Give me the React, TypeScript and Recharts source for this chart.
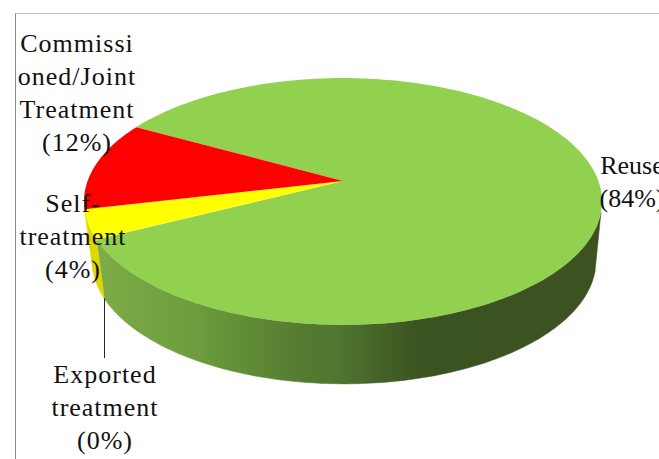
import { Pie, PieChart } from 'recharts'

const WIDTH = 659
const HEIGHT = 459

// slice order runs clockwise from the top-left edge of the red slice
const categories = ['Reuse', 'Exported treatment', 'Self-treatment', 'Commissioned/Joint Treatment']
const values = [84.49, 0.11, 3.7, 11.7]
const topColors = ['#92d050', '#ffff00', '#ffff00', '#ff0000']
const wallColors = ['url(#wallGreen)', '#d8d400', '#dcd800', '#c00000']
const labelLines = [['Reuse'], ['Exported', 'treatment'], ['Self-', 'treatment'], ['Commissi', 'oned/Joint', 'Treatment']]

// where each label block sits: centre x, first baseline
const labelAnchors = [
  [632, 174],
  [105, 383],
  [73, 212],
  [77, 52],
]
const LINE_GAP = 33

const data = categories.map((name, i) => ({
  name,
  value: values[i],
  fill: topColors[i],
  wall: wallColors[i],
}))

// perspective disc: the apex is not the middle of the ellipse
const RX = 255.4
const RY = 120
const TILT = 0.166
const DEPTH = 59
const SHRINK = 0.973
const WALL_LIMIT = -0.24

function rim(cx: number, cy: number, deg: number) {
  const rad = (deg * Math.PI) / 180
  const d = 1 + TILT * Math.sin(rad)
  return [cx + (RX * Math.cos(rad)) / d, cy - (RY * Math.sin(rad)) / d]
}

function lower(cx: number, p: number[]) {
  return [cx + 1 + (p[0] - cx) * SHRINK, p[1] + DEPTH]
}

function toPath(points: number[][]) {
  return 'M' + points.map((p) => p[0].toFixed(1) + ' ' + p[1].toFixed(1)).join('L') + 'Z'
}

function DiscSlice(props: any) {
  const { cx, cy, startAngle, endAngle, fill, wall } = props
  const steps = Math.max(2, Math.ceil(Math.abs(endAngle - startAngle)))
  const angles: number[] = []
  for (let i = 0; i <= steps; i++) angles.push(startAngle + ((endAngle - startAngle) * i) / steps)

  const front = angles.filter((a) => Math.sin((a * Math.PI) / 180) < WALL_LIMIT)
  const top = front.map((a) => rim(cx, cy, a))
  const bottom = top.map((p) => lower(cx, p)).reverse()

  return (
    <g>
      {front.length > 1 && <path d={toPath([...top, ...bottom])} fill={wall} stroke={wall} strokeWidth={0.5} />}
      <path d={toPath([[cx, cy], ...angles.map((a) => rim(cx, cy, a))])} fill={fill} />
    </g>
  )
}

function SliceLabel(props: any) {
  const { index, cx, cy, midAngle } = props
  const [x, y] = labelAnchors[index]
  const lines = [...labelLines[index], '(' + Math.round(values[index]) + '%)']
  const foot = lower(cx, rim(cx, cy, midAngle))
  // snap to the pixel grid so the leader stays crisp
  const footX = Math.floor(foot[0]) + 0.5
  return (
    <g>
      {index === 1 && <line x1={footX} y1={foot[1]} x2={footX} y2={358} stroke="#262626" strokeWidth={1} />}
      <text
        x={x}
        y={y}
        textAnchor="middle"
        fill="#111111"
        fontFamily="'Liberation Serif', serif"
        fontSize={26}
        letterSpacing={index === 0 ? 0 : 1}
      >
        {lines.map((line, i) => (
          <tspan key={line} x={x} y={y + i * LINE_GAP}>
            {line}
          </tspan>
        ))}
      </text>
    </g>
  )
}

export default function App() {
  return (
    <div style={{ position: 'absolute', left: 0, top: 0, width: WIDTH, height: HEIGHT, overflow: 'hidden', background: '#fff' }}>
      <div
        style={{
          position: 'absolute',
          left: 15,
          top: 13,
          width: 800,
          height: 600,
          borderTop: '1px solid #bfbfbf',
          borderLeft: '1px solid #8c8c8c',
        }}
      />
      <div style={{ position: 'absolute', left: 0, top: 0 }}>
        <PieChart width={WIDTH} height={HEIGHT} margin={{ top: 0, right: 0, bottom: 0, left: 0 }}>
          <defs>
            <linearGradient id="wallGreen" gradientUnits="userSpaceOnUse" x1={97} y1={0} x2={600} y2={0}>
              <stop offset="0%" stopColor="#7dac48" />
              <stop offset="20%" stopColor="#6c9c3c" />
              <stop offset="40%" stopColor="#557c31" />
              <stop offset="48%" stopColor="#4f7530" />
              <stop offset="64%" stopColor="#3b5321" />
              <stop offset="100%" stopColor="#3c5221" />
            </linearGradient>
          </defs>
          <Pie
            data={data}
            dataKey="value"
            nameKey="name"
            cx={343}
            cy={181}
            innerRadius={0}
            outerRadius={255}
            startAngle={151}
            endAngle={-209}
            stroke="none"
            shape={DiscSlice}
            label={SliceLabel}
            labelLine={false}
            isAnimationActive={false}
          />
        </PieChart>
      </div>
    </div>
  )
}
